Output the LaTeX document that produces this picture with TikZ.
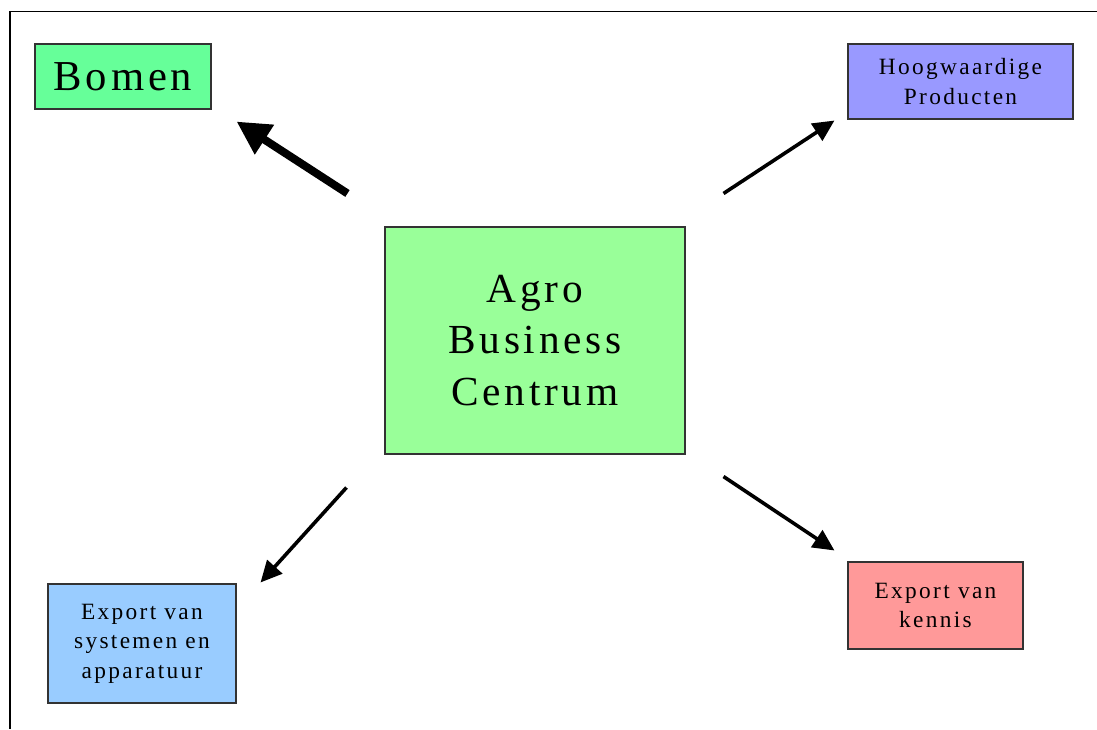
\documentclass[tikz,border=0pt]{standalone}
\usepackage{fontspec}
\setmainfont{Liberation Serif}
\newfontfamily\bomenfont[LetterSpace=9]{Liberation Serif}
\newfontfamily\centrumfont[LetterSpace=9]{Liberation Serif}
\newfontfamily\smallfont[LetterSpace=10]{Liberation Serif}
\usetikzlibrary{calc,arrows.meta}
\definecolor{bomengreen}{HTML}{66FF99}
\definecolor{centrumgreen}{HTML}{99FF99}
\definecolor{productblue}{HTML}{9999FF}
\definecolor{systeemblue}{HTML}{99CCFF}
\definecolor{kennisred}{HTML}{FF9999}
\tikzset{
  box/.style={draw=black!80,line width=0.8pt,inner sep=0pt,align=center},
  bigtext/.style={font={\bomenfont\fontsize{32}{38}\selectfont}},
  midtext/.style={font={\centrumfont\fontsize{31}{38.6}\selectfont}},
  smalltext/.style={font={\smallfont\fontsize{17.5}{22.2}\selectfont}},
  thickarrow/.style={line width=6pt,-{Triangle[length=25pt,width=25pt]}},
  thinarrow/.style={line width=2.7pt,-{Triangle[length=16pt,width=15pt]}}
}
\begin{document}
\begin{tikzpicture}[x=0.75pt,y=-0.75pt]
				% page size
				\useasboundingbox (0,0) rectangle (1097,729);
				% frame lines at top and left
				\draw[line width=1pt] (1097,11.5) -- (10,11.5) -- (10,729);
				
				% centre box
				\node[box,midtext,fill=centrumgreen,minimum width=225pt,minimum height=170.25pt] (abc) at (535,340.5)
				{Agro\\Business\\Centrum};
				
				% outer boxes
				\node[box,bigtext,fill=bomengreen,minimum width=132pt,minimum height=48.75pt] (bomen) at (123,76.5)
				{Bomen};
				\node[box,smalltext,fill=productblue,minimum width=168.75pt,minimum height=56.25pt] (hoog) at (960.5,81.5)
				{Hoogwaardige\\Producten};
				\node[box,smalltext,fill=systeemblue,minimum width=141pt,minimum height=89.25pt] (sys) at (142,643.5)
				{Export van\\systemen en\\apparatuur};
				\node[box,smalltext,fill=kennisred,minimum width=131.25pt,minimum height=65.25pt] (kennis) at (935.5,605.5)
				{Export van\\kennis};
				
				% arrows from the centre box
				\draw[thickarrow] ($(abc.north west)+(-37,-33)$) -- ($(bomen.south east)+(25,12)$);
				\draw[thinarrow] ($(abc.north east)+(38,-33)$) -- ($(hoog.south west)+(-13,1)$);
				\draw[thinarrow] ($(abc.south west)+(-38,33)$) -- ($(sys.north east)+(24,-1)$);
				\draw[thinarrow] ($(abc.south east)+(38,22)$) -- ($(kennis.north west)+(-13,-11)$);
				
\end{tikzpicture}
\end{document}
